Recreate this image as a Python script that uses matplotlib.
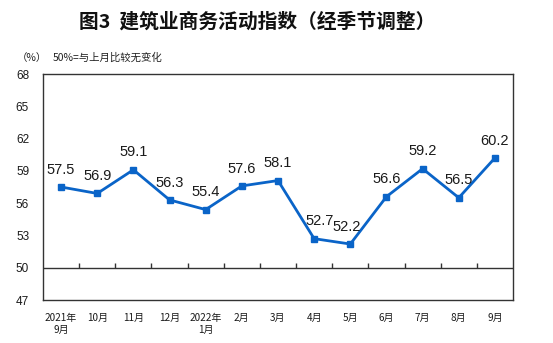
import matplotlib
matplotlib.use("Agg")
import matplotlib.pyplot as plt

plt.rcParams['font.family'] = ['Noto Sans CJK SC', 'DejaVu Sans']

months = ["2021年\n9月", "10月", "11月", "12月", "2022年\n1月", "2月", "3月",
          "4月", "5月", "6月", "7月", "8月", "9月"]
values = [57.5, 56.9, 59.1, 56.3, 55.4, 57.6, 58.1, 52.7, 52.2, 56.6, 59.2, 56.5, 60.2]
y_ticks = [47, 50, 53, 56, 59, 62, 65, 68]
label_dx = [0, 0, 0, 0, 0, 0, 0, 4, -3, 0, 0, 0, 0]

line_color = "#0A64C8"

fig = plt.figure(figsize=(5.53, 3.43), dpi=100)
ax = fig.add_axes([43 / 553, 43 / 343, 470 / 553, 226 / 343])

x = list(range(len(values)))
ax.plot(x, values, color=line_color, lw=2.0, marker="s", ms=5,
        markerfacecolor=line_color, markeredgecolor=line_color, zorder=3)

for xi, v, dx in zip(x, values, label_dx):
    ax.annotate(f"{v:.1f}", (xi, v), xytext=(dx, 12.5), textcoords="offset points",
                ha="center", va="center", fontsize=10.5, color="#1a1a1a",
                family=["Liberation Sans", "DejaVu Sans"])

# baseline at 50 with category separators
ax.axhline(50, color="#333333", lw=1.0, zorder=2)
ax.vlines([i + 0.5 for i in range(len(values) - 1)], 50, 50.45,
          color="#333333", lw=1.0, zorder=2)

ax.set_xlim(-0.5, len(values) - 0.5)
ax.set_ylim(47, 68)
ax.set_yticks(y_ticks)
ax.set_yticklabels([str(t) for t in y_ticks], fontsize=8.5,
                   family=["Liberation Sans", "DejaVu Sans"])
ax.tick_params(axis="y", length=0, pad=10, colors="#1a1a1a")
ax.set_xticks(x)
ax.set_xticklabels(months, fontsize=7.2, linespacing=1.35)
ax.tick_params(axis="x", length=0, pad=9, colors="#1a1a1a")
for lbl in ax.get_xticklabels():
    lbl.set_verticalalignment("top")

for s in ax.spines.values():
    s.set_color("#333333")
    s.set_linewidth(1.0)

fig.text(257 / 553, 1 - 22 / 343, "图3  建筑业商务活动指数（经季节调整）", ha="center",
         va="center", fontsize=14.2, fontweight="bold", color="#111111")
fig.text(17 / 553, 1 - 58 / 343, "（%）", ha="left", va="center", fontsize=7.5,
         color="#222222")
fig.text(53 / 553, 1 - 58 / 343, "50%=与上月比较无变化", ha="left", va="center",
         fontsize=7.5, color="#222222")

fig.savefig("out.png", dpi=100, facecolor="white")
